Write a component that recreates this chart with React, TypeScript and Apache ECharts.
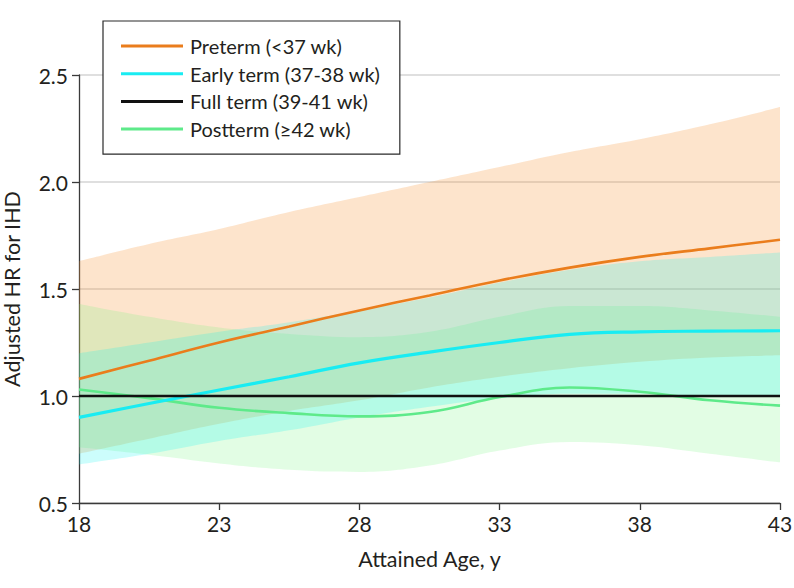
import React, { useEffect, useRef } from "react";
import * as echarts from "echarts";

// Attained age (years), evenly spaced
const ages = ["18", "20.5", "23", "25.5", "28", "30.5", "33", "35.5", "38", "40.5", "43"];

// Preterm (<37 wk)
const pretermHR = [1.08, 1.165, 1.25, 1.325, 1.4, 1.47, 1.54, 1.6, 1.65, 1.69, 1.73];
const pretermUpper = [1.63, 1.71, 1.78, 1.86, 1.93, 2.0, 2.07, 2.14, 2.2, 2.27, 2.35];
const pretermLower = [0.73, 0.8, 0.87, 0.93, 0.98, 1.04, 1.09, 1.13, 1.16, 1.18, 1.19];

// Early term (37-38 wk)
const earlyHR = [0.9, 0.965, 1.028, 1.09, 1.155, 1.205, 1.25, 1.288, 1.3, 1.303, 1.305];
const earlyUpper = [1.2, 1.25, 1.3, 1.345, 1.4, 1.46, 1.53, 1.59, 1.63, 1.65, 1.67];
const earlyLower = [0.68, 0.73, 0.79, 0.84, 0.9, 0.95, 0.99, 1.01, 1.01, 1.0, 1.0];

// Full term (39-41 wk) – reference
const fullHR = [1, 1, 1, 1, 1, 1, 1, 1, 1, 1, 1];

// Postterm (>=42 wk)
const postHR = [1.03, 0.99, 0.945, 0.92, 0.905, 0.925, 0.995, 1.04, 1.02, 0.98, 0.955];
const postUpper = [1.43, 1.37, 1.32, 1.29, 1.275, 1.3, 1.37, 1.42, 1.42, 1.4, 1.37];
const postLower = [0.76, 0.725, 0.685, 0.655, 0.645, 0.675, 0.745, 0.785, 0.77, 0.73, 0.69];

const names = ["Preterm (<37 wk)", "Early term (37-38 wk)", "Full term (39-41 wk)", "Postterm (≥42 wk)"];

const FONT = "Lato, sans-serif";
const TXT = "#231f20";

const diff = (hi: number[], lo: number[]) => hi.map((h, i) => +(h - lo[i]).toFixed(4));

function band(id: string, lo: number[], hi: number[], color: string) {
  return [
    {
      type: "line",
      name: id + "-lo",
      stack: id,
      data: lo,
      smooth: 0.4,
      symbol: "none",
      lineStyle: { opacity: 0 },
      silent: true,
    },
    {
      type: "line",
      name: id + "-band",
      stack: id,
      data: diff(hi, lo),
      smooth: 0.4,
      symbol: "none",
      lineStyle: { opacity: 0 },
      areaStyle: { color, opacity: 1 },
      silent: true,
    },
  ];
}

function line(name: string, ys: number[], color: string, width: number) {
  return {
    type: "line",
    name,
    data: ys,
    smooth: 0.4,
    symbol: "none",
    itemStyle: { color },
    lineStyle: { color, width },
  };
}

export default function App() {
  const ref = useRef<HTMLDivElement>(null);
  useEffect(() => {
    if (!ref.current) return;
    const chart = echarts.init(ref.current, null, { renderer: "svg" });
    chart.setOption({
      animation: false,
      backgroundColor: "#ffffff",
      textStyle: { fontFamily: FONT },
      grid: { left: 79, right: 14, top: 75, bottom: 85, containLabel: false, outerBoundsMode: "none" },
      xAxis: {
        type: "category",
        data: ages,
        boundaryGap: false,
        name: "Attained Age, y",
        nameLocation: "middle",
        nameGap: 45,
        nameTextStyle: { fontSize: 21.5, color: TXT, fontFamily: FONT },
        axisLine: { lineStyle: { color: "#3a3a3a", width: 1.3 } },
        axisTick: { show: true, length: 7, interval: 1, lineStyle: { color: "#3a3a3a", width: 1.3 } },
        axisLabel: { interval: 1, fontSize: 21, color: TXT, margin: 10, fontFamily: FONT },
        splitLine: { show: false },
      },
      yAxis: {
        type: "value",
        min: 0.5,
        max: 2.5,
        interval: 0.5,
        name: "Adjusted HR for IHD",
        nameLocation: "middle",
        nameGap: 56,
        nameTextStyle: { fontSize: 21.5, color: TXT, fontFamily: FONT },
        axisLine: { show: true, lineStyle: { color: "#3a3a3a", width: 1.3 } },
        axisTick: { show: true, length: 7, lineStyle: { color: "#3a3a3a", width: 1.3 } },
        axisLabel: { fontSize: 21, color: TXT, margin: 11, fontFamily: FONT, formatter: (v: number) => v.toFixed(1) },
        splitLine: { show: true, lineStyle: { color: "#d4d4d4", width: 1.5 } },
      },
      legend: {
        data: names,
        left: 103,
        top: 21,
        orient: "vertical",
        icon: "rect",
        itemWidth: 62,
        itemHeight: 3,
        itemGap: 7.7,
        padding: [15, 19, 15, 18],
        borderColor: "#2a2a2a",
        borderWidth: 1.2,
        backgroundColor: "#ffffff",
        selectedMode: false,
        textStyle: { fontSize: 20, color: TXT, lineHeight: 20, fontFamily: FONT, padding: [0, 0, 0, 2] },
      },
      series: [
        ...band("pre", pretermLower, pretermUpper, "rgba(247,147,51,0.25)"),
        ...band("post", postLower, postUpper, "rgba(110,245,120,0.2)"),
        ...band("early", earlyLower, earlyUpper, "rgba(0,245,240,0.2)"),
        line(names[3], postHR, "#5eea8a", 2.6),
        line(names[1], earlyHR, "#19ecf2", 3.2),
        line(names[0], pretermHR, "#ea7d1c", 2.6),
        line(names[2], fullHR, "#111111", 2.6),
      ],
    });
    return () => chart.dispose();
  }, []);
  return <div ref={ref} style={{ position: "fixed", left: 0, top: 0, width: 794, height: 588 }} />;
}
